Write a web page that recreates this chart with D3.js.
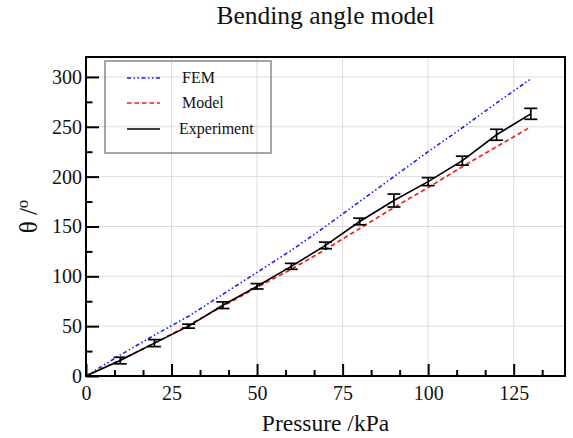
<!DOCTYPE html>
<html>
<head>
<meta charset="utf-8">
<script src="https://cdn.jsdelivr.net/npm/d3@7"></script>
<style>
  html, body { margin: 0; padding: 0; background: #fff; }
  svg text { font-family: "Liberation Serif", "Times New Roman", serif; fill: #111; }
</style>
</head>
<body>
<svg id="chart" width="573" height="438"></svg>
<script>
// ---- data ----
const pressureFEM   = [0, 10, 20, 30, 40, 50, 60, 70, 80, 90, 100, 110, 120, 130];
const femValues     = [0, 21, 41, 60, 82, 104, 126, 150, 175, 200, 225, 249, 274, 298];
const modelValues   = [0, 16, 33, 51, 70, 89, 107, 127, 148, 169, 189, 210, 230, 250];
const pressureExp   = [0, 10, 20, 30, 40, 50, 60, 70, 80, 90, 100, 110, 120, 130];
const expValues     = [0, 15.5, 33, 50, 71, 90, 110, 131, 155, 176, 195, 216, 242, 263];
const expErrors     = [0, 3.3, 3.5, 2, 3.3, 2.7, 3, 3.3, 3.3, 6.5, 4, 4.5, 5.5, 5.5];
const xTicks        = [0, 25, 50, 75, 100, 125];
const yTicks        = [0, 50, 100, 150, 200, 250, 300];
const seriesNames   = ["FEM", "Model", "Experiment"];
const seriesColors  = ["#1a1aff", "#ff1a1a", "#000000"];

// ---- layout ----
const svg = d3.select("#chart");
const L = 86, R = 565, T = 57, B = 376;
const x = d3.scaleLinear().domain([0, 140]).range([L, R]);
const y = d3.scaleLinear().domain([0, 320]).range([B, T]);

// gridlines
const grid = svg.append("g");
grid.selectAll("line.gx").data(xTicks.filter(d => d > 0)).enter().append("line")
  .attr("x1", d => x(d)).attr("x2", d => x(d)).attr("y1", T).attr("y2", B)
  .attr("stroke", "#dcdcdc").attr("stroke-width", 1);
grid.selectAll("line.gy").data(yTicks.filter(d => d > 0)).enter().append("line")
  .attr("y1", d => y(d)).attr("y2", d => y(d)).attr("x1", L).attr("x2", R)
  .attr("stroke", "#dcdcdc").attr("stroke-width", 1);

// title
svg.append("text").attr("x", (L + R) / 2).attr("y", 24).attr("text-anchor", "middle")
  .attr("font-size", 25.5).text("Bending angle model");

// axes (ticks inward)
const xMinor = d3.range(0, 140.01, 25 / 3).filter(v => Math.abs(v / 25 - Math.round(v / 25)) > 1e-6);
const yMinor = d3.range(25, 320, 50);

const xAxis = d3.axisBottom(x).tickValues(xTicks).tickSize(-12).tickPadding(10).tickFormat(d3.format("d"));
const gx = svg.append("g").attr("transform", `translate(0,${B})`).call(xAxis);
const xAxisMinor = d3.axisBottom(x).tickValues(xMinor).tickSize(-6).tickFormat("");
const gxm = svg.append("g").attr("transform", `translate(0,${B})`).call(xAxisMinor);

const yAxis = d3.axisLeft(y).tickValues(yTicks).tickSize(-13).tickPadding(4).tickFormat(d3.format("d"));
const gy = svg.append("g").attr("transform", `translate(${L},0)`).call(yAxis);
const yAxisMinor = d3.axisLeft(y).tickValues(yMinor).tickSize(-6.5).tickFormat("");
const gym = svg.append("g").attr("transform", `translate(${L},0)`).call(yAxisMinor);

[gx, gxm, gy, gym].forEach(g => {
  g.select(".domain").remove();
  g.selectAll(".tick line").attr("stroke", "#000").attr("stroke-width", 2);
  g.selectAll(".tick text").attr("font-size", 20).attr("fill", "#111");
});

// clip for series
svg.append("clipPath").attr("id", "clip").append("rect")
  .attr("x", L).attr("y", T).attr("width", R - L).attr("height", B - T);
const plot = svg.append("g").attr("clip-path", "url(#clip)");

const line = d3.line().x(d => x(d[0])).y(d => y(d[1]));

// FEM
plot.append("path").datum(pressureFEM.map((p, i) => [p, femValues[i]]))
  .attr("d", line).attr("fill", "none").attr("stroke", seriesColors[0])
  .attr("stroke-width", 1.6).attr("stroke-dasharray", "4,2.5,1.5,2.5,1.5,2.5");
// Model
plot.append("path").datum(pressureFEM.map((p, i) => [p, modelValues[i]]))
  .attr("d", line).attr("fill", "none").attr("stroke", seriesColors[1])
  .attr("stroke-width", 1.7).attr("stroke-dasharray", "4.5,3");
// Experiment
plot.append("path").datum(pressureExp.map((p, i) => [p, expValues[i]]))
  .attr("d", line).attr("fill", "none").attr("stroke", seriesColors[2])
  .attr("stroke-width", 1.6);

// error bars
const eb = plot.append("g").selectAll("g").data(pressureExp.map((p, i) => ({p, v: expValues[i], e: expErrors[i]})).filter(d => d.e > 0))
  .enter().append("g").attr("stroke", "#000").attr("stroke-width", 1.7);
eb.append("line").attr("x1", d => x(d.p)).attr("x2", d => x(d.p))
  .attr("y1", d => y(d.v - d.e)).attr("y2", d => y(d.v + d.e));
eb.append("line").attr("x1", d => x(d.p) - 6.5).attr("x2", d => x(d.p) + 6.5)
  .attr("y1", d => y(d.v - d.e)).attr("y2", d => y(d.v - d.e));
eb.append("line").attr("x1", d => x(d.p) - 6.5).attr("x2", d => x(d.p) + 6.5)
  .attr("y1", d => y(d.v + d.e)).attr("y2", d => y(d.v + d.e));

// frame
svg.append("rect").attr("x", L).attr("y", T).attr("width", R - L).attr("height", B - T)
  .attr("fill", "none").attr("stroke", "#000").attr("stroke-width", 2);

// axis titles
svg.append("text").attr("x", (L + R) / 2).attr("y", 431).attr("text-anchor", "middle")
  .attr("font-size", 23.5).text("Pressure /kPa");
const yt = svg.append("text").attr("transform", `translate(37,${(T + B) / 2}) rotate(-90)`)
  .attr("text-anchor", "middle").attr("font-size", 25);
yt.append("tspan").text("θ /");
yt.append("tspan").attr("font-size", 17).attr("dy", -9).text("o");

// legend
const lg = svg.append("g");
lg.append("rect").attr("x", 105).attr("y", 61).attr("width", 166).attr("height", 92)
  .attr("fill", "none").attr("stroke", "#888").attr("stroke-width", 1.5);
const rowsY = [78, 103, 129];
const dashes = ["4,2.5,1.5,2.5,1.5,2.5", "4.5,3", null];
const textX = [182, 182, 179];
seriesNames.forEach((name, i) => {
  const ln = lg.append("line").attr("x1", 127).attr("x2", 160).attr("y1", rowsY[i]).attr("y2", rowsY[i])
    .attr("stroke", seriesColors[i]).attr("stroke-width", 1.7);
  if (dashes[i]) ln.attr("stroke-dasharray", dashes[i]);
  lg.append("text").attr("x", textX[i]).attr("y", rowsY[i] + 5).attr("font-size", 16).text(name);
});
</script>
</body>
</html>
